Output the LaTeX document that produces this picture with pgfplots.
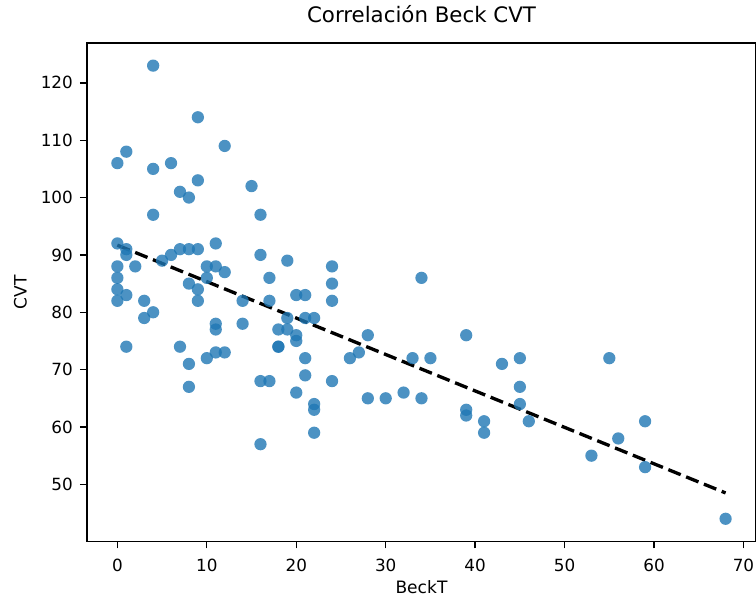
\documentclass[border=0pt]{standalone}
\usepackage{fontspec}
\setmainfont{DejaVu Sans}
\usepackage{pgfplots}
\pgfplotsset{compat=1.18}
\definecolor{mplblue}{HTML}{1F77B4}

\pgfplotstableread{
x y
4 123
9 114
12 109
1 108
0 106
4 105
6 106
9 103
7 101
8 100
15 102
4 97
16 97
0 92
1 91
1 90
11 92
6 90
7 91
8 91
9 91
16 90
5 89
19 89
0 88
2 88
10 88
11 88
12 87
0 86
10 86
17 86
0 84
8 85
9 84
1 83
0 82
9 82
17 82
3 82
14 82
4 80
3 79
11 78
11 77
14 78
18 77
19 77
18 74
18 74
1 74
7 74
8 71
10 72
11 73
12 73
16 68
17 68
8 67
16 57
24 88
24 85
24 82
34 86
20 83
21 83
19 79
21 79
22 79
20 76
20 75
28 76
39 76
21 72
26 72
27 73
33 72
35 72
21 69
24 68
20 66
22 64
22 63
22 59
28 65
30 65
32 66
34 65
39 63
39 62
43 71
45 72
55 72
45 67
45 64
41 61
41 59
46 61
53 55
56 58
59 61
59 53
68 44
}\datatable

\begin{document}
\begin{tikzpicture}
\begin{axis}[
  scale only axis, width=502pt, height=374pt,
  xmin=-3.4, xmax=71.4, ymin=40.05, ymax=126.95,
  xtick={0,10,...,70}, ytick={50,60,...,120},
  tick pos=left, tick align=outside, major tick length=5.25pt,
  axis line style={line width=1pt},
  major tick style={line width=1pt, black},
  /pgf/number format/assume math mode=true,
  ticklabel style={font=\fontsize{12.6}{15}\selectfont},
  xticklabel style={yshift=-4.5pt},
  yticklabel style={xshift=-1.8pt},
  xlabel={BeckT}, ylabel={CVT},
  xlabel style={font=\fontsize{12.8}{15}\selectfont, at={(rel axis cs:0.5,0)}, anchor=center, inner sep=0pt, yshift=-34.5pt},
  ylabel style={font=\fontsize{12.8}{15}\selectfont, at={(rel axis cs:0,0.5)}, anchor=center, yshift=50pt},
  title={Correlación Beck CVT},
  title style={font=\fontsize{16}{19}\selectfont, at={(rel axis cs:0.5,1)}, anchor=center, yshift=15.75pt},
]
\addplot[only marks, color=mplblue, mark=*, mark size=4.6pt, mark options={solid, fill=mplblue, draw=mplblue, fill opacity=0.8, draw opacity=0}] table[x=x,y=y] {\datatable};
\addplot[black, line width=2.5pt, dash pattern=on 10pt off 4.4pt] coordinates {(0,91.7) (68,48.5)};
\coordinate (SW) at (rel axis cs:0,0);
\coordinate (NE) at (rel axis cs:1,1);
\end{axis}
\pgfresetboundingbox
\path[use as bounding box] ([xshift=-65.25pt,yshift=-42.25pt]SW) rectangle ([yshift=32.25pt]NE);
\end{tikzpicture}
\end{document}
